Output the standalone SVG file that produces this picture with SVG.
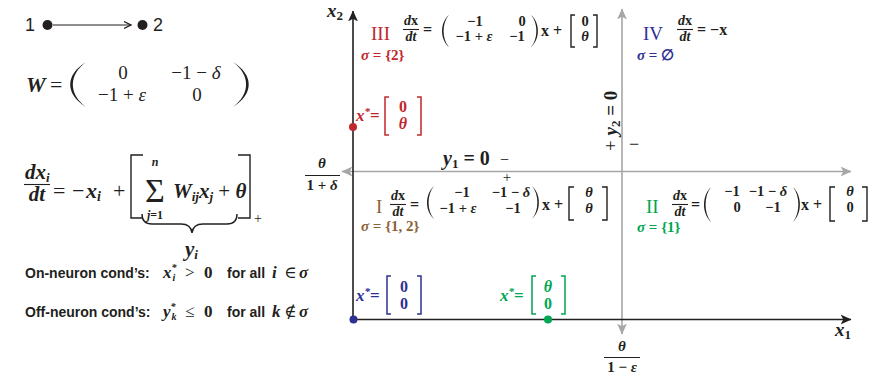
<svg xmlns="http://www.w3.org/2000/svg" width="888" height="381" viewBox="0 0 888 381">
<style>
.sans{font-family:"Liberation Sans",Arial,sans-serif;font-style:normal}
.sb{font-weight:bold}
.mi{font-family:"Liberation Serif","DejaVu Serif",serif;font-style:italic;font-weight:bold}
.mb{font-family:"Liberation Serif","DejaVu Serif",serif;font-style:normal;font-weight:bold}
.mr{font-family:"Liberation Serif","DejaVu Serif",serif;font-style:normal;font-weight:normal}
text{fill:#231f20}
.red{fill:#c1272d}
.blue{fill:#2e3192}
.brown{fill:#8c6239}
.green{fill:#00a651}
.fl{stroke:#231f20;stroke-width:1.1}
.bk{fill:none;stroke:#231f20;stroke-width:1.4}
.bkr{fill:none;stroke:#c1272d;stroke-width:1.5}
.bkb{fill:none;stroke:#2e3192;stroke-width:1.5}
.bkg{fill:none;stroke:#00a651;stroke-width:1.5}
.pr{fill:#231f20}
.ax{stroke:#231f20;stroke-width:1.6;fill:none}
.gx{stroke:#a6a6a6;stroke-width:1.6;fill:none}
</style>
<defs>
<marker id="arrK" viewBox="0 0 10 9" refX="9.5" refY="4.5" markerWidth="11" markerHeight="10" markerUnits="userSpaceOnUse" orient="auto-start-reverse"><path d="M0,0 L10,4.5 L0,9 L2.5,4.5 Z" fill="#231f20"/></marker>
<marker id="arrG" viewBox="0 0 10 9" refX="9.5" refY="4.5" markerWidth="11" markerHeight="10" markerUnits="userSpaceOnUse" orient="auto-start-reverse"><path d="M0,0 L10,4.5 L0,9 L2.5,4.5 Z" fill="#a6a6a6"/></marker>
<marker id="arrC" viewBox="0 0 8 8" refX="7.5" refY="4" markerWidth="8" markerHeight="8" markerUnits="userSpaceOnUse" orient="auto"><path d="M0.5,0.5 L7.5,4 L0.5,7.5" fill="none" stroke="#231f20" stroke-width="1.2"/></marker>
</defs>

<!-- network 1 -> 2 -->
<g id="connectors">
<line x1="53" y1="25" x2="131" y2="25" stroke="#231f20" stroke-width="1.2" marker-end="url(#arrC)"/>
</g>
<g id="node-1">
<circle cx="47.5" cy="25" r="5" fill="#231f20"/>
<text class="sans" x="25" y="31" font-size="18">1</text>
</g>
<g id="node-2">
<circle cx="142.5" cy="25" r="5" fill="#231f20"/>
<text class="sans" x="153" y="31" font-size="18">2</text>
</g>

<!-- W matrix -->
<g id="W-matrix">
<text class="mi" x="26" y="92" font-size="22">W</text>
<text class="mr" x="50" y="92" font-size="22">=</text>
<path class="pr" d="M86,62 C65,75 65,94 86,107 C68.5,94 68.5,75 86,62Z"/>
<text class="mr" x="123" y="79" font-size="19" text-anchor="middle">0</text>
<text class="mr" x="196" y="79" font-size="19" text-anchor="middle">−1 − <tspan font-style="italic">δ</tspan></text>
<text class="mr" x="122" y="101" font-size="19" text-anchor="middle">−1 + <tspan font-style="italic">ε</tspan></text>
<text class="mr" x="197" y="101" font-size="19" text-anchor="middle">0</text>
<path class="pr" d="M233,62 C254,75 254,94 233,107 C250.5,94 250.5,75 233,62Z"/>
</g>

<!-- dynamics equation -->
<g id="dynamics">
<text class="mi" x="25" y="179" font-size="21">dx<tspan font-size="13" dy="3">i</tspan></text>
<line class="fl" x1="24" y1="184.5" x2="50" y2="184.5"/>
<text class="mi" x="37" y="201" font-size="21" text-anchor="middle">dt</text>
<text class="mr" x="53" y="198" font-size="22">=</text>
<text class="mr" x="72" y="198" font-size="22">−</text>
<text class="mi" x="86" y="198" font-size="22">x<tspan font-size="14" dy="3">i</tspan></text>
<text class="mr" x="113" y="198" font-size="22">+</text>
<path class="bk" d="M143,155 H131 V218 H143"/>
<text class="mi" x="155" y="166" font-size="12" text-anchor="middle">n</text>
<text class="mr" x="155" y="202" font-size="34" text-anchor="middle">Σ</text>
<text class="mi" x="155" y="219" font-size="12" text-anchor="middle">j<tspan class="mb">=1</tspan></text>
<text class="mi" x="173" y="198" font-size="21">W<tspan font-size="13" dy="3">ij</tspan><tspan dy="-3">x</tspan><tspan font-size="13" dy="3">j</tspan><tspan class="mr" dy="-3"> + </tspan>θ</text>
<path class="bk" d="M238,155 H250 V218 H238"/>
<text class="mr" x="254" y="223" font-size="14">+</text>
<path class="bk" stroke-width="2" d="M142,214 Q142,224 152,224 L181,224 Q191,224 192,233 Q193,224 203,224 L227,224 Q237,224 237,214"/>
<text class="mi" x="185" y="256" font-size="21">y<tspan font-size="13" dy="3">i</tspan></text>
</g>

<!-- conditions -->
<g id="conditions">
<text y="278" font-size="14"><tspan class="sans sb" x="25">On-neuron cond’s:</tspan><tspan class="mi" x="163" font-size="17">x</tspan><tspan class="mi" font-size="10" dy="-7">*</tspan><tspan class="mi" font-size="10" dx="-4" dy="10">i</tspan><tspan class="mr" x="185" font-size="17" dy="-3">&gt;</tspan><tspan class="mb" x="204" font-size="17">0</tspan><tspan class="sans sb" x="227">for all</tspan><tspan class="mi" x="272" font-size="17">i</tspan><tspan class="mr" x="284" font-size="17">∈</tspan><tspan class="mi" x="299" font-size="17">σ</tspan></text>
<text y="317" font-size="14"><tspan class="sans sb" x="25">Off-neuron cond’s:</tspan><tspan class="mi" x="163" font-size="17">y</tspan><tspan class="mi" font-size="10" dy="-7">*</tspan><tspan class="mi" font-size="10" dx="-4" dy="10">k</tspan><tspan class="mr" x="185" font-size="17" dy="-3">≤</tspan><tspan class="mb" x="204" font-size="17">0</tspan><tspan class="sans sb" x="227">for all</tspan><tspan class="mi" x="272" font-size="17">k</tspan><tspan class="mr" x="284" font-size="17">∉</tspan><tspan class="mi" x="299" font-size="17">σ</tspan></text>
</g>

<!-- nullclines (gray) -->
<g id="nullclines">
<line class="gx" x1="342" y1="171.5" x2="851" y2="171.5" marker-start="url(#arrG)" marker-end="url(#arrG)"/>
<line class="gx" x1="622" y1="9" x2="622" y2="334" marker-start="url(#arrG)" marker-end="url(#arrG)"/>
<text class="mi" x="443" y="165" font-size="20">y<tspan class="mb" font-size="13" dy="3">1</tspan><tspan class="mb" dy="-3"> = 0</tspan></text>
<text class="mr" x="500" y="165" font-size="16">−</text>
<text class="mr" x="507" y="182" font-size="15" text-anchor="middle">+</text>
<text class="mi" transform="translate(617,151) rotate(-90)" font-size="19"><tspan class="mr">+ </tspan>y<tspan class="mb" font-size="13" dy="3">2</tspan><tspan class="mb" dy="-3"> = 0</tspan></text>
<text class="mr" x="629" y="150" font-size="18">−</text>
<text class="mi" x="322" y="168" font-size="15" text-anchor="middle">θ</text>
<line class="fl" x1="305" y1="175.5" x2="340" y2="175.5"/>
<text class="mb" x="322" y="190" font-size="15" text-anchor="middle">1 + <tspan class="mi">δ</tspan></text>
<text class="mi" x="622" y="351" font-size="15" text-anchor="middle">θ</text>
<line class="fl" x1="604" y1="357.5" x2="640" y2="357.5"/>
<text class="mb" x="622" y="372" font-size="15" text-anchor="middle">1 − <tspan class="mi">ε</tspan></text>
</g>

<!-- axes -->
<g id="axes">
<line class="ax" x1="353" y1="320" x2="353" y2="11" marker-end="url(#arrK)"/>
<line class="ax" x1="353" y1="319.5" x2="851" y2="319.5" marker-end="url(#arrK)"/>
<text class="mi" x="327" y="17" font-size="19">x<tspan class="mb" font-size="13" dy="3">2</tspan></text>
<text class="mi" x="835" y="336" font-size="19">x<tspan class="mb" font-size="13" dy="3">1</tspan></text>
</g>

<!-- Region III -->
<g id="region-III">
<text class="mr red" x="371" y="40" font-size="19">III</text>
<text class="mi" x="411" y="25" font-size="14" text-anchor="middle">d<tspan class="mb">x</tspan></text>
<line class="fl" x1="403" y1="29.5" x2="419" y2="29.5"/>
<text class="mi" x="411" y="41" font-size="14" text-anchor="middle">dt</text>
<text class="mb" x="423" y="35" font-size="16">=</text>
<path class="pr" d="M449,15 C439.7,23 439.7,39 449,47 C441.8,39 441.8,23 449,15Z"/>
<text class="mb" x="475" y="26" font-size="14.5" text-anchor="middle">−1</text>
<text class="mb" x="522" y="26" font-size="14.5" text-anchor="middle">0</text>
<text class="mb" x="474" y="41" font-size="14.5" text-anchor="middle">−1 + <tspan class="mi">ε</tspan></text>
<text class="mb" x="517" y="41" font-size="14.5" text-anchor="middle">−1</text>
<path class="pr" d="M531,15 C540.3,23 540.3,39 531,47 C538.2,39 538.2,23 531,15Z"/>
<text class="mb" x="541" y="36" font-size="16">x +</text>
<path class="bk" d="M575,15 H571 V47 H575"/>
<text class="mb" x="585" y="26" font-size="14.5" text-anchor="middle">0</text>
<text class="mi" x="585" y="41" font-size="14.5" text-anchor="middle">θ</text>
<path class="bk" d="M593,15 H597 V47 H593"/>
<text class="mi red" x="361" y="60" font-size="15">σ<tspan class="mb red"> = {2}</tspan></text>
<circle cx="353" cy="127" r="4" fill="#c1272d"/>
<text class="mi red" x="356" y="121" font-size="17">x<tspan font-size="11" dy="-6">*</tspan><tspan class="mb red" dy="6">=</tspan></text>
<path class="bkr" d="M389,97 H385 V135 H389"/>
<text class="mb red" x="403" y="112" font-size="16" text-anchor="middle">0</text>
<text class="mi red" x="403" y="129" font-size="16" text-anchor="middle">θ</text>
<path class="bkr" d="M417,97 H421 V135 H417"/>
</g>

<!-- Region IV -->
<g id="region-IV">
<text class="mr blue" x="643" y="40" font-size="19">IV</text>
<text class="mi" x="685" y="25" font-size="14" text-anchor="middle">d<tspan class="mb">x</tspan></text>
<line class="fl" x1="677" y1="29.5" x2="693" y2="29.5"/>
<text class="mi" x="685" y="41" font-size="14" text-anchor="middle">dt</text>
<text class="mb" x="697" y="35" font-size="16">= −x</text>
<text class="mi blue" x="637" y="60" font-size="15">σ<tspan class="mb blue"> = ∅</tspan></text>
</g>

<!-- Region I -->
<g id="region-I">
<text class="mr brown" x="376" y="213" font-size="19">I</text>
<text class="mi" x="398" y="200" font-size="14" text-anchor="middle">d<tspan class="mb">x</tspan></text>
<line class="fl" x1="390" y1="204.5" x2="406" y2="204.5"/>
<text class="mi" x="398" y="216" font-size="14" text-anchor="middle">dt</text>
<text class="mb" x="410" y="210" font-size="16">=</text>
<path class="pr" d="M434,186 C424.7,194.3 424.7,210.8 434,219 C426.8,210.8 426.8,194.3 434,186Z"/>
<text class="mb" x="462" y="197" font-size="14.5" text-anchor="middle">−1</text>
<text class="mb" x="511" y="197" font-size="14.5" text-anchor="middle">−1 − <tspan class="mi">δ</tspan></text>
<text class="mb" x="458" y="213" font-size="14.5" text-anchor="middle">−1 + <tspan class="mi">ε</tspan></text>
<text class="mb" x="513" y="213" font-size="14.5" text-anchor="middle">−1</text>
<path class="pr" d="M532,186 C541.3,194.3 541.3,210.8 532,219 C539.2,210.8 539.2,194.3 532,186Z"/>
<text class="mb" x="542" y="210" font-size="16">x +</text>
<path class="bk" d="M574,187 H569 V220 H574"/>
<text class="mi" x="589" y="197" font-size="14.5" text-anchor="middle">θ</text>
<text class="mi" x="589" y="213" font-size="14.5" text-anchor="middle">θ</text>
<path class="bk" d="M602,187 H607 V220 H602"/>
<text class="mi brown" x="361" y="231" font-size="15">σ<tspan class="mb brown"> = {1, 2}</tspan></text>
</g>

<!-- Region II -->
<g id="region-II">
<text class="mr green" x="646" y="213" font-size="19">II</text>
<text class="mi" x="680" y="200" font-size="14" text-anchor="middle">d<tspan class="mb">x</tspan></text>
<line class="fl" x1="672" y1="204.5" x2="688" y2="204.5"/>
<text class="mi" x="680" y="216" font-size="14" text-anchor="middle">dt</text>
<text class="mb" x="691" y="210" font-size="16">=</text>
<path class="pr" d="M711,187 C701.7,195.8 701.7,213.3 711,222 C703.8,213.3 703.8,195.8 711,187Z"/>
<text class="mb" x="732" y="196" font-size="14.5" text-anchor="middle">−1</text>
<text class="mb" x="768" y="196" font-size="14.5" text-anchor="middle">−1 − <tspan class="mi">δ</tspan></text>
<text class="mb" x="737" y="212" font-size="14.5" text-anchor="middle">0</text>
<text class="mb" x="773" y="212" font-size="14.5" text-anchor="middle">−1</text>
<path class="pr" d="M793,187 C802.3,195.8 802.3,213.3 793,222 C800.2,213.3 800.2,195.8 793,187Z"/>
<text class="mb" x="801" y="210" font-size="16">x +</text>
<path class="bk" d="M835,187 H830 V221 H835"/>
<text class="mi" x="850" y="196" font-size="14.5" text-anchor="middle">θ</text>
<text class="mb" x="850" y="212" font-size="14.5" text-anchor="middle">0</text>
<path class="bk" d="M862,187 H867 V221 H862"/>
<text class="mi green" x="637" y="232" font-size="15">σ<tspan class="mb green"> = {1}</tspan></text>
</g>

<!-- fixed points on x1 axis -->
<g id="fixed-point-origin">
<circle cx="353.5" cy="319.5" r="4" fill="#2e3192"/>
<text class="mi blue" x="356" y="301" font-size="17">x<tspan font-size="11" dy="-6">*</tspan><tspan class="mb blue" dy="6">=</tspan></text>
<path class="bkb" d="M391,276 H387 V314 H391"/>
<text class="mb blue" x="404" y="292" font-size="16" text-anchor="middle">0</text>
<text class="mb blue" x="404" y="309" font-size="16" text-anchor="middle">0</text>
<path class="bkb" d="M417,276 H421 V314 H417"/>
</g>
<g id="fixed-point-II">
<circle cx="548" cy="319.5" r="4" fill="#00a651"/>
<text class="mi green" x="500" y="301" font-size="17">x<tspan font-size="11" dy="-6">*</tspan><tspan class="mb green" dy="6">=</tspan></text>
<path class="bkg" d="M536,276 H532 V314 H536"/>
<text class="mi green" x="548" y="292" font-size="16" text-anchor="middle">θ</text>
<text class="mb green" x="548" y="309" font-size="16" text-anchor="middle">0</text>
<path class="bkg" d="M561,276 H565 V314 H561"/>
</g>
</svg>
